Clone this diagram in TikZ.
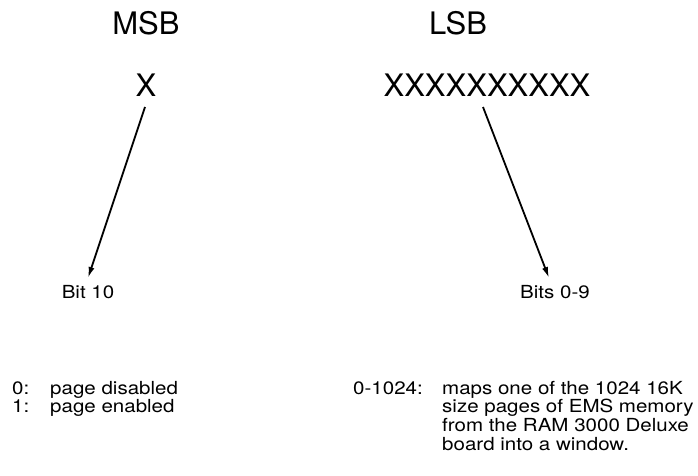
\documentclass[tikz,border=0pt]{standalone}
\usepackage{fontspec}
\setmainfont{TeX Gyre Heros}
\newfontfamily\widesans[FakeStretch=1.14]{TeX Gyre Heros}
\usetikzlibrary{arrows.meta}
\begin{document}
\begin{tikzpicture}[x=1pt,y=-1pt,
    big/.style={inner sep=0pt,anchor=base,font=\fontsize{31}{31}\selectfont},
    small/.style={inner sep=0pt,anchor=base west,font=\widesans\fontsize{18}{19}\selectfont},
    pointer/.style={line width=1.8pt,-{Latex[length=11pt,width=6pt]}}]
      \useasboundingbox (0,0) rectangle (698,476);
      \node[big] (msb) at (146,35) {MSB};
      \node[big] (lsb) at (458,35) {LSB};
      \node[big] (xmsb) at (146,97) {X};
      \node[big] (xlsb) at (487,97) {XXXXXXXXXX};
      \node[small,anchor=base] (bit10) at (88,298) {Bit 10};
      \node[small,anchor=base] (bits) at (555,298) {Bits 0-9};
      \coordinate (m0) at (145,107);
      \coordinate (m1) at (88,278);
      \coordinate (l0) at (483,107);
      \coordinate (l1) at (549,278);
      \draw[pointer] (m0)--(m1);
      \draw[pointer] (l0)--(l1);
      \node[small] (k0) at (12,394) {0:};
      \node[small] (v0) at (50,394) {page disabled};
      \node[small] (k1) at (12,412.7) {1:};
      \node[small] (v1) at (50,412.7) {page enabled};
      \node[small] (kr) at (353,394) {0-1024:};
      \node[small] (r0) at (442,394) {maps one of the 1024 16K};
      \node[small] (r1) at (442,412.7) {size pages of EMS memory};
      \node[small] (r2) at (442,431.4) {from the RAM 3000 Deluxe};
      \node[small] (r3) at (442,450.1) {board into a window.};
    \end{tikzpicture}
\end{document}
